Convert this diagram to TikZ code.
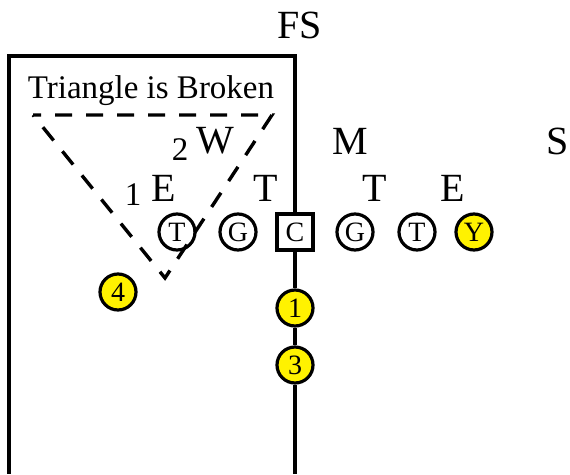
\documentclass[tikz,border=0pt]{standalone}
\usepackage{fontspec}
\setmainfont{Liberation Serif}
\usetikzlibrary{positioning}

\tikzset{
    player/.style={circle, draw, line width=3.2pt, fill=white, minimum size=36pt,
        inner sep=0pt, font=\fontsize{28}{28}\selectfont},
    snapper/.style={rectangle, draw, line width=3.2pt, fill=white, minimum size=36pt,
        inner sep=0pt, font=\fontsize{28}{28}\selectfont},
    back/.style={player, fill=yellow},
    defender/.style={anchor=base, inner sep=0pt, font=\fontsize{40}{40}\selectfont},
    gap/.style={anchor=base, inner sep=0pt, font=\fontsize{33}{33}\selectfont},
    wall/.style={line width=3.2pt},
    broken/.style={line width=3.4pt, dash pattern=on 17pt off 14pt, dash phase=9pt}
}

\begin{document}
\begin{tikzpicture}[x=1pt, y=-1pt]
    \useasboundingbox (0,0) rectangle (570,474);

    % offensive line
    \node[player] (lt) at (177,232) {T};
    \node[player] (lg) at (238,232) {G};
    \node[snapper] (c) at (295,232) {C};
    \node[player] (rg) at (355,232) {G};
    \node[player] (rt) at (417,232) {T};
    \node[back] (te) at (474,232) {Y};

    % backfield
    \node[back] (b1) at (295,308) {1};
    \node[back] (b3) at (295,365) {3};
    \node[back] (b4) at (118,292) {4};

    % box and line through the center
    \coordinate (boxtr) at (295,56);
    \coordinate (boxtl) at (9,56);
    \coordinate (boxbl) at (9,474);
    \coordinate (bot) at (295,474);
    \draw[wall] (c.north) -- (boxtr) -- (boxtl) -- (boxbl);
    \draw[wall] (c.south) -- (b1.north);
    \draw[wall] (b1.south) -- (b3.north);
    \draw[wall] (b3.south) -- (bot);

    % broken triangle
    \coordinate (tl) at (33,115);
    \coordinate (tr) at (272,115);
    \coordinate (tb) at (165,278);
    \draw[broken] (tl) -- (tr) -- (tb) -- cycle;
    \node[anchor=base, inner sep=0pt, font=\fontsize{33}{33}\selectfont] (title) at (151,98) {Triangle is Broken};

    % defense
    \node[defender] (fs) at (300,38) {FS};
    \node[defender] (w) at (215,153) {W};
    \node[defender] (m) at (350,154) {M};
    \node[defender] (s) at (558,154) {S};
    \node[defender] (le) at (164,201) {E};
    \node[defender] (lnt) at (266,201) {T};
    \node[defender] (rnt) at (375,201) {T};
    \node[defender] (re) at (453,201) {E};

    % gaps
    \node[gap] (g2) at (180,160) {2};
    \node[gap] (g1) at (133,205) {1};
\end{tikzpicture}
\end{document}
